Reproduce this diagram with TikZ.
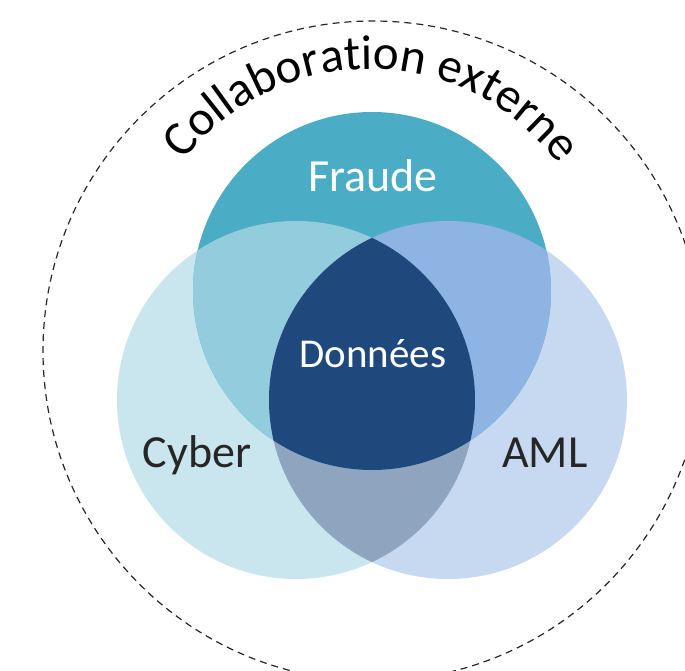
\documentclass[tikz,border=0pt]{standalone}
\usepackage{fontspec}
\setmainfont{Carlito}
\usepackage{tikz}
\usetikzlibrary{decorations.text}

\definecolor{FraudeBlue}{HTML}{4BACC6}
\definecolor{CyberBlue}{HTML}{C9E5EE}
\definecolor{AmlBlue}{HTML}{C6D9F0}
\definecolor{FraudeCyber}{HTML}{93CDDD}
\definecolor{FraudeAml}{HTML}{8EB4E3}
\definecolor{CyberAml}{HTML}{8FA5BF}
\definecolor{DonneesBlue}{HTML}{1F497D}
\definecolor{DarkText}{HTML}{262626}

\begin{document}
\begin{tikzpicture}[x=1pt, y=1pt,
  venn/.style={radius=179},
  %
  bigtext/.style={font=\fontsize{46}{55}\selectfont, inner sep=0pt,
    anchor=base},
  %
  whitetext/.style={bigtext, text=white},
  %
  darktext/.style={bigtext, text=DarkText},
  %
  border/.style={draw=DarkText, line width=1.2pt, dash pattern=on 7pt off 5pt}
  ]

  \useasboundingbox (0,0) rectangle (685,670);
  \clip (0,0) rectangle (685,670);

  \coordinate (fraude) at (372,379);
  \coordinate (cyber) at (296,270);
  \coordinate (aml) at (448,270);
  \coordinate (outer) at (373,319);
  \coordinate (arch) at (370,367);

  % external collaboration
  \draw [border] (outer) circle [radius=330];
  \path [decorate, decoration={text along path, text align=center,
    text={|\fontsize{49}{58}\selectfont|Collaboration externe}}]
    ([shift={(149.5:234)}]arch) arc [start angle=149.5, end angle=29.5, radius=234];

  % lower circles
  \fill [CyberBlue] (cyber) circle [venn];
  \fill [AmlBlue] (aml) circle [venn];
  \begin{scope}
    \clip (cyber) circle [venn];
    \fill [CyberAml] (aml) circle [venn];
  \end{scope}

  % upper circle and overlaps
  \fill [FraudeBlue] (fraude) circle [venn];
  \begin{scope}
    \clip (fraude) circle [venn];
    \fill [FraudeCyber] (cyber) circle [venn];
    \fill [FraudeAml] (aml) circle [venn];
    \clip (cyber) circle [venn];
    \fill [DonneesBlue] (aml) circle [venn];
  \end{scope}

  \node [whitetext] (fraudeLbl) at (373,478) {Fraude};
  \node [whitetext, font=\fontsize{41}{50}\selectfont] (donneesLbl) at (373,302) {Données};
  \node [darktext] (cyberLbl) at (197,203) {Cyber};
  \node [darktext] (amlLbl) at (545,203) {AML};

\end{tikzpicture}
\end{document}
